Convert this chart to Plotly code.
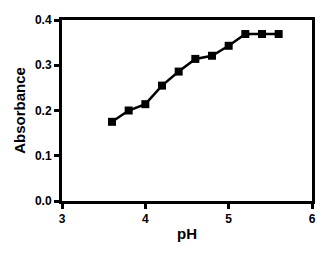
import plotly.graph_objects as go

ph = [3.6, 3.8, 4.0, 4.2, 4.4, 4.6, 4.8, 5.0, 5.2, 5.4, 5.6]
absorbance = [0.175, 0.200, 0.214, 0.255, 0.286, 0.314, 0.321, 0.343, 0.369, 0.369, 0.369]

x_ticks = [3, 4, 5, 6]
y_ticks = [0.0, 0.1, 0.2, 0.3, 0.4]
y_tick_labels = ["0.0", "0.1", "0.2", "0.3", "0.4"]

fig = go.Figure()
fig.add_trace(go.Scatter(
    x=ph, y=absorbance, mode="lines+markers",
    line=dict(color="black", width=2.5),
    marker=dict(symbol="square", size=8, color="black"),
    showlegend=False,
))

tickfont = dict(family="Liberation Sans, Arial, sans-serif", size=12, color="black", weight="bold")
titlefont = dict(family="Liberation Sans, Arial, sans-serif", size=15, color="black", weight="bold")

fig.update_layout(
    width=331, height=256,
    margin=dict(l=62, r=19, t=20, b=55),
    paper_bgcolor="white", plot_bgcolor="white",
    xaxis=dict(
        range=[3, 6], tickvals=x_ticks, ticktext=[str(v) for v in x_ticks],
        showgrid=False, zeroline=False,
        showline=True, linecolor="black", linewidth=3, mirror=True,
        ticks="outside", ticklen=5, tickwidth=3, tickcolor="black",
        tickfont=tickfont,
        title=dict(text="pH", font=titlefont, standoff=4),
    ),
    yaxis=dict(
        range=[0, 0.4], tickvals=y_ticks, ticktext=y_tick_labels,
        showgrid=False, zeroline=False,
        showline=True, linecolor="black", linewidth=3, mirror=True,
        ticks="outside", ticklen=5, tickwidth=3, tickcolor="black",
        tickfont=tickfont,
        title=dict(text="Absorbance", font=titlefont, standoff=6),
    ),
)

fig.write_html("out.html")
